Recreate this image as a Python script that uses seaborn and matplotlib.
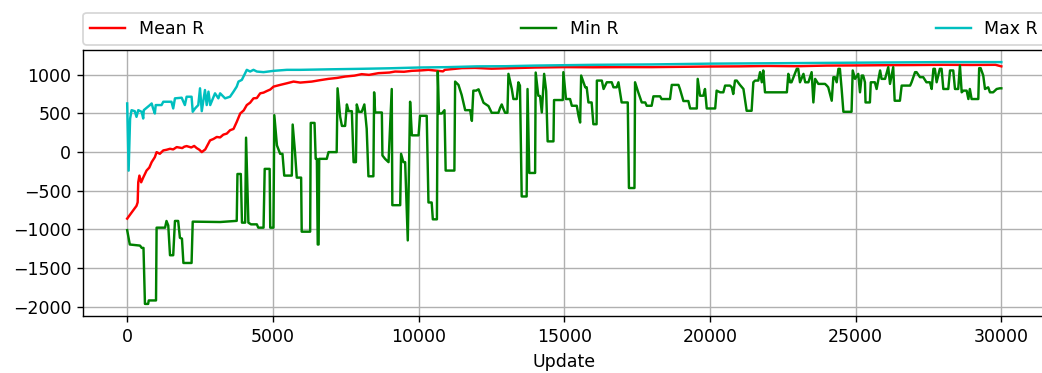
import matplotlib
matplotlib.use("Agg")
import matplotlib.pyplot as plt
import seaborn as sns

# Training progress: reward statistics per update
mean_updates = [0, 150, 320, 360, 380, 420, 480, 550, 665, 760, 840, 950, 1010, 1120, 1240,
                1350, 1470, 1580, 1700, 1890, 1960, 2040, 2200, 2300, 2385, 2480, 2560,
                2680, 2845, 2960, 3075, 3190, 3300, 3420, 3530, 3650, 3760, 3880, 4000,
                4105, 4220, 4335, 4450, 4565, 4680, 4795, 4910, 5025, 5250, 5480, 5710,
                5940, 6336, 6600, 6908, 7200, 7480, 7800, 8050, 8300, 8624, 9000, 9196,
                9500, 9768, 10100, 10340, 10840, 10900, 11484, 11940, 12500, 13000,
                14000, 15000, 16000, 17000, 18000, 19000, 20000, 21000, 22000, 23000,
                24000, 25000, 26000, 27000, 28000, 29000, 29800, 30000]
mean_values = [-861, -783, -696, -650, -391, -304, -391, -330, -239, -200, -130, -65, 0, -22,
               22, 30, 43, 35, 65, 52, 70, 78, 60, 80, 52, 30, 0,
               35, 152, 170, 196, 190, 226, 240, 283, 300, 391, 500, 540,
               609, 640, 696, 700, 761, 770, 791, 810, 848, 870, 891, 913,
               900, 913, 930, 948, 960, 978, 990, 1009, 1000, 1022, 1030, 1043,
               1040, 1052, 1058, 1065, 1045, 1065, 1087, 1090, 1080, 1085,
               1095, 1100, 1098, 1100, 1100, 1104, 1108, 1110, 1115, 1112,
               1120, 1122, 1125, 1127, 1130, 1128, 1130, 1110]

min_updates = [0, 90, 440, 500, 560, 610, 720, 740, 990, 1010, 1300, 1350, 1410, 1470,
               1580, 1640, 1750, 1810, 1880, 1930, 2210, 2250, 3190, 3760, 3785, 3900,
               3940, 4050, 4080, 4160, 4250, 4450, 4500, 4680, 4720, 4890, 4910, 5020,
               5050, 5140, 5250, 5330, 5390, 5650, 5680, 5760, 5820, 5970, 5990, 6280,
               6300, 6430, 6470, 6510, 6540, 6570, 6590, 6850, 6910, 7190, 7220, 7310,
               7370, 7480, 7540, 7600, 7710, 7770, 7850, 7880, 7950, 8050, 8140, 8220,
               8280, 8450, 8475, 8510, 8740, 8760, 8850, 8970, 9080, 9100, 9370, 9400,
               9480, 9540, 9630, 9710, 9770, 10000, 10050, 10280, 10340, 10450, 10490,
               10630, 10660, 10700, 10800, 10890, 10930, 11230, 11255, 11370, 11480,
               11600, 11770, 11830, 11880, 11975, 12060, 12230, 12400, 12510, 12740,
               12800, 12855, 12910, 12970, 13050, 13085, 13200, 13255, 13370, 13425,
               13480, 13540, 13710, 13740, 13800, 14000, 14020, 14110, 14170, 14230,
               14310, 14380, 14430, 14630, 14650, 14950, 14970, 15060, 15200, 15260,
               15430, 15490, 15545, 15580, 15720, 15770, 15830, 15940, 16000, 16110,
               16120, 16290, 16350, 16460, 16630, 16690, 16800, 16860, 16970, 17180,
               17220, 17410, 17430, 17540, 17660, 17780, 17830, 18000, 18060, 18290,
               18340, 18630, 18690, 18920, 18970, 19090, 19260, 19320, 19550, 19580,
               19660, 19775, 19830, 19890, 20180, 20230, 20350, 20460, 20520, 20690,
               20750, 20800, 20860, 20920, 21030, 21150, 21260, 21430, 21490, 21550,
               21660, 21720, 21780, 21830, 21890, 22640, 22690, 22750, 22800, 22980,
               23030, 23090, 23210, 23270, 23380, 23490, 23550, 23610, 23720, 23950,
               24010, 24060, 24180, 24235, 24290, 24350, 24410, 24460, 24520, 24580,
               24860, 24900, 24980, 25090, 25150, 25210, 25260, 25320, 25340, 25490,
               25520, 25660, 25720, 25840, 25890, 26010, 26120, 26180, 26290, 26340,
               26520, 26580, 26870, 26920, 27040, 27090, 27210, 27320, 27430, 27550,
               27610, 27670, 27720, 27780, 27890, 27950, 28010, 28180, 28240, 28350,
               28410, 28520, 28580, 28640, 28700, 28810, 28870, 28920, 28980, 29210,
               29240, 29290, 29380, 29440, 29550, 29610, 29720, 29840, 29950, 30000]
min_values = [-1010, -1196, -1210, -1240, -1240, -1965, -1965, -1920, -1920, -978, -978, -891,
              -950, -1335, -1335, -891, -891, -1109, -1120, -1435, -1435, -900, -905, -890,
              -283, -283, -913, -913, 187, -913, -935, -935, -978, -978, -217, -217, -978,
              -978, 478, 87, -22, -22, -304, -304, 357, 0, -330, -330, -1030, -1030, 378,
              378, -87, -87, -1196, -1196, -87, -87, 0, 0, 826, 457, 339, 339, 617, 530,
              530, -130, -130, 617, 522, 522, 617, 304, -313, -313, 774, 513, 513, -43,
              -87, -130, 817, -687, -687, -22, -130, -130, -1143, 652, 217, 217, 470, 470,
              -652, -652, -870, -870, 1043, 500, 500, 543, -239, -239, 913, 870, 739, 543,
              543, 404, 796, 796, 813, 639, 596, 509, 509, 574, 617, 561, 509, 509, 1013,
              817, 687, 687, 904, 861, -574, -574, 817, -270, -270, 1030, 730, 726, 513,
              1013, 791, 139, 139, 674, 674, 1035, 687, 687, 600, 600, 470, 383, 991, 839,
              839, 643, 643, 361, 361, 926, 926, 817, 904, 904, 839, 839, 904, 643, 643,
              -465, -465, 904, 774, 643, 643, 600, 600, 722, 722, 687, 687, 870, 870, 817,
              661, 661, 565, 565, 948, 730, 730, 817, 565, 565, 796, 774, 774, 861, 861,
              839, 752, 926, 926, 870, 817, 535, 535, 904, 926, 926, 1035, 904, 1057, 774,
              774, 1013, 904, 904, 1078, 1078, 904, 1013, 904, 904, 1035, 643, 948, 883,
              883, 861, 839, 665, 970, 970, 904, 1078, 1078, 817, 522, 522, 1057, 948,
              1013, 774, 991, 991, 904, 643, 643, 904, 904, 817, 1057, 948, 948, 1100,
              883, 1100, 665, 665, 861, 861, 904, 1035, 1035, 970, 970, 904, 904, 817,
              1078, 1078, 904, 1078, 1078, 817, 817, 1057, 1057, 817, 817, 1120, 774,
              796, 796, 687, 817, 687, 687, 1087, 1087, 991, 817, 839, 774, 774, 817,
              826, 826]

max_updates = [0, 50, 100, 150, 260, 320, 380, 500, 550, 570, 780, 840, 890, 950, 980,
               1180, 1240, 1520, 1580, 1640, 1870, 1980, 2040, 2210, 2250, 2330, 2440,
               2500, 2560, 2670, 2730, 2790, 2850, 3015, 3130, 3190, 3360, 3530, 3650,
               3760, 3820, 3935, 4050, 4105, 4220, 4335, 4450, 4680, 5025, 5480, 5940,
               7000, 8000, 9000, 10000, 11000, 12000, 13000, 14000, 16000, 18000,
               20000, 22000, 24000, 26000, 28000, 30000]
max_values = [630, -240, 430, 543, 530, 456, 543, 521, 435, 543, 609, 630, 565, 500, 609,
              609, 652, 652, 565, 696, 704, 609, 717, 717, 522, 565, 609,
              826, 530, 804, 609, 783, 609, 761, 696, 761, 696, 717, 783,
              848, 913, 935, 1022, 1065, 1043, 1065, 1043, 1035, 1052, 1065, 1065,
              1072, 1078, 1085, 1095, 1100, 1110, 1112, 1120, 1130, 1135,
              1145, 1150, 1155, 1160, 1165, 1165]

series = [
    ("Mean R", mean_updates, mean_values, "r"),
    ("Min R", min_updates, min_values, "g"),
    ("Max R", max_updates, max_values, "c"),
]

fig = plt.figure(figsize=(8.336, 2.984), dpi=125)
ax = fig.add_axes([0.0801, 0.1528, 0.9228, 0.7131])

for name, xs, ys, col in series:
    sns.lineplot(x=xs, y=ys, color=col, label=name, ax=ax,
                 estimator=None, sort=False, linewidth=1.4)

ax.set_xlabel("Update")
ax.set_ylabel("")
ax.set_xticks([0, 5000, 10000, 15000, 20000, 25000, 30000])
ax.set_yticks([-2000, -1500, -1000, -500, 0, 500, 1000])
ax.grid(True)
ax.legend(loc="lower left", bbox_to_anchor=(0, 1.02, 1, 0.102),
          mode="expand", ncol=3, borderaxespad=0.0)

fig.savefig("out.png", dpi=125)
